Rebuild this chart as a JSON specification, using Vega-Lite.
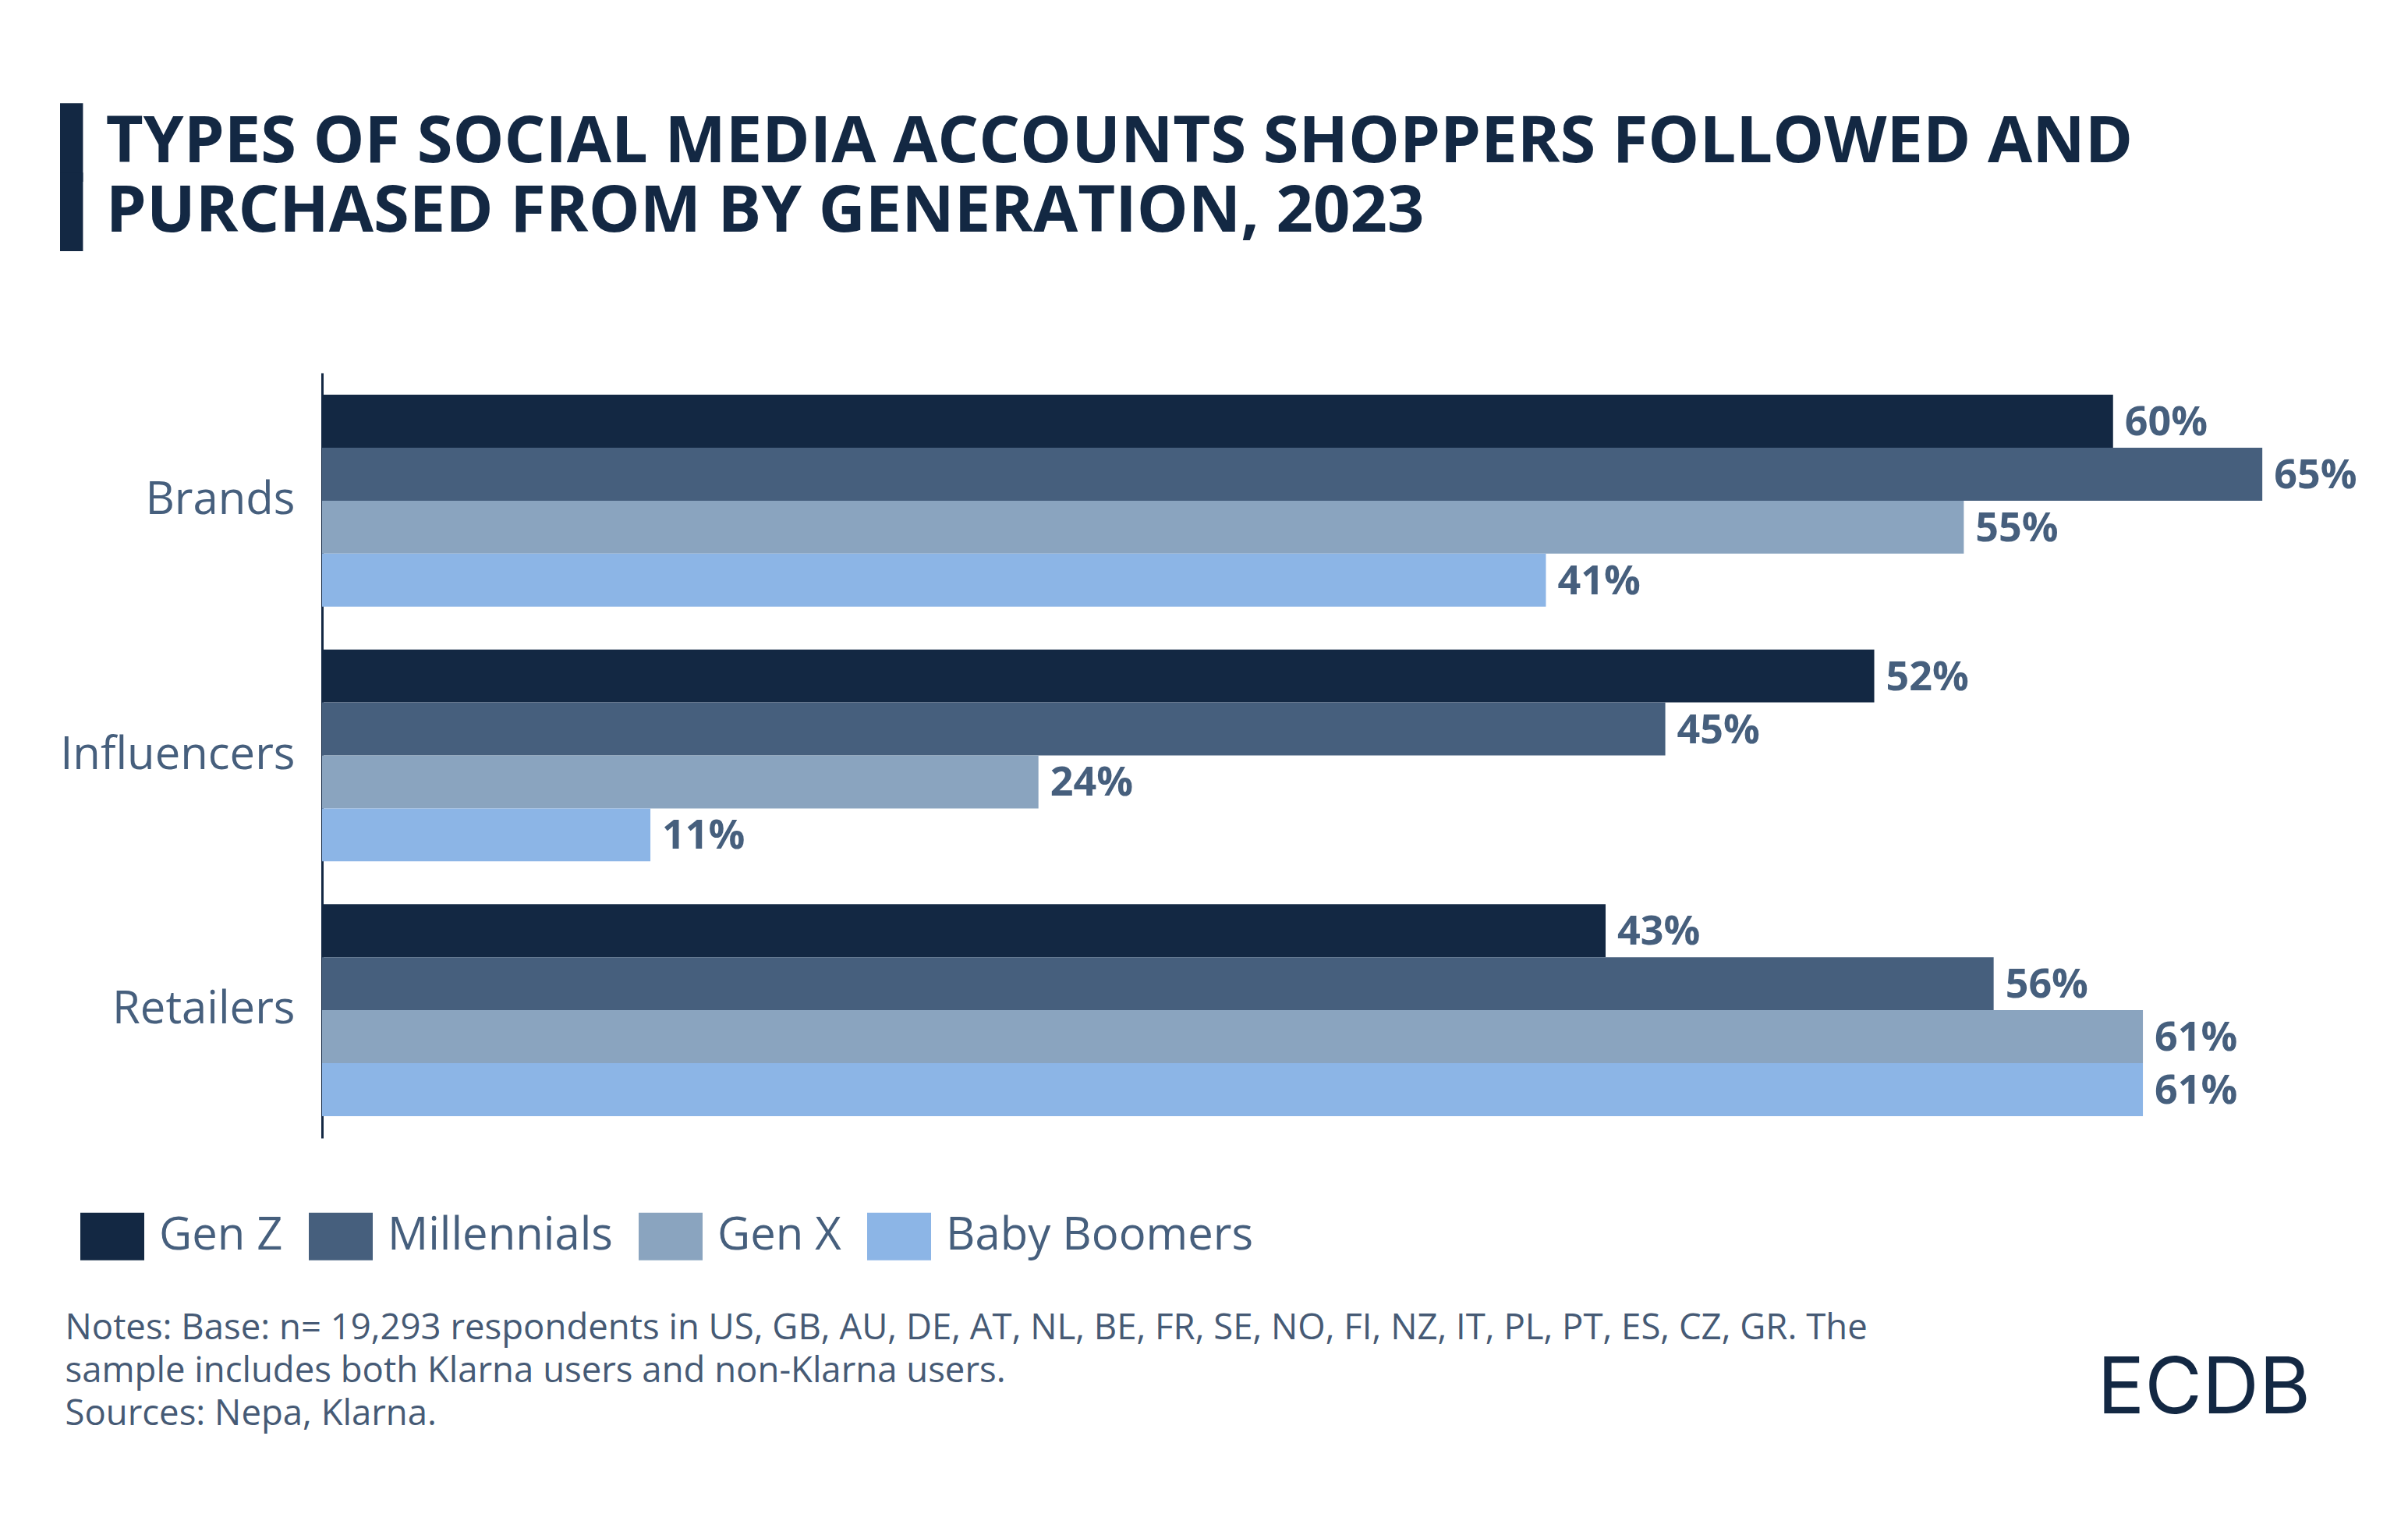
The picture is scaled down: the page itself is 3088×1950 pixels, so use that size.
{
  "$schema": "https://vega.github.io/schema/vega-lite/v6.json",
  "autosize": {"type": "none"},
  "padding": {"left": 413, "top": 478, "right": 72, "bottom": 491},
  "width": 2603,
  "height": 981,
  "background": "#ffffff",
  "title": {
    "text": ["▌TYPES OF SOCIAL MEDIA ACCOUNTS SHOPPERS FOLLOWED AND", "▌PURCHASED FROM BY GENERATION, 2023"],
    "anchor": "start",
    "frame": "group",
    "font": "Open Sans",
    "fontSize": 83,
    "fontWeight": "bold",
    "color": "#132843",
    "lineHeight": 89,
    "baseline": "alphabetic",
    "dx": -336,
    "offset": 98
  },
  "data": {
    "values": [
      {"Category": "Brands", "Generation": "Gen Z", "Share": 0.60},
      {"Category": "Brands", "Generation": "Millennials", "Share": 0.65},
      {"Category": "Brands", "Generation": "Gen X", "Share": 0.55},
      {"Category": "Brands", "Generation": "Baby Boomers", "Share": 0.41},
      {"Category": "Influencers", "Generation": "Gen Z", "Share": 0.52},
      {"Category": "Influencers", "Generation": "Millennials", "Share": 0.45},
      {"Category": "Influencers", "Generation": "Gen X", "Share": 0.24},
      {"Category": "Influencers", "Generation": "Baby Boomers", "Share": 0.11},
      {"Category": "Retailers", "Generation": "Gen Z", "Share": 0.43},
      {"Category": "Retailers", "Generation": "Millennials", "Share": 0.56},
      {"Category": "Retailers", "Generation": "Gen X", "Share": 0.61},
      {"Category": "Retailers", "Generation": "Baby Boomers", "Share": 0.61}
    ]
  },
  "encoding": {
    "y": {
      "field": "Category",
      "type": "nominal",
      "sort": ["Brands", "Influencers", "Retailers"],
      "scale": {"paddingInner": 0.168, "paddingOuter": 0.086},
      "axis": {
        "title": "ECDB",
        "titleAngle": 0,
        "titleAlign": "left",
        "titleBaseline": "alphabetic",
        "titleX": 2276,
        "titleY": 1333,
        "titleFont": "Inter",
        "titleFontSize": 101,
        "titleFontWeight": "normal",
        "titleColor": "#132843",
        "domain": true,
        "domainColor": "#132843",
        "domainWidth": 3,
        "ticks": false,
        "grid": false,
        "labelPadding": 35,
        "labelLimit": 500,
        "labelFont": "Open Sans",
        "labelFontSize": 58,
        "labelColor": "#465f7d"
      }
    },
    "yOffset": {
      "field": "Generation",
      "type": "nominal",
      "sort": ["Gen Z", "Millennials", "Gen X", "Baby Boomers"],
      "scale": {"paddingInner": 0, "paddingOuter": 0}
    },
    "x": {
      "field": "Share",
      "type": "quantitative",
      "scale": {"domain": [0, 0.68], "nice": false, "zero": true},
      "axis": {
        "domain": false,
        "ticks": false,
        "labels": false,
        "grid": false,
        "title": [
          "Notes: Base: n= 19,293 respondents in US, GB, AU, DE, AT, NL, BE, FR, SE, NO, FI, NZ, IT, PL, PT, ES, CZ, GR. The",
          "sample includes both Klarna users and non-Klarna users.",
          "Sources: Nepa, Klarna."
        ],
        "titleAnchor": "start",
        "titleAlign": "left",
        "titleBaseline": "alphabetic",
        "titleX": -330,
        "titleY": 257,
        "titleFont": "Open Sans",
        "titleFontSize": 45.5,
        "titleFontWeight": "normal",
        "titleColor": "#465a75",
        "titleLineHeight": 55,
        "titleLimit": 3000
      }
    }
  },
  "layer": [
    {
      "mark": {"type": "bar"},
      "encoding": {
        "color": {
          "field": "Generation",
          "type": "nominal",
          "sort": ["Gen Z", "Millennials", "Gen X", "Baby Boomers"],
          "scale": {
            "domain": ["Gen Z", "Millennials", "Gen X", "Baby Boomers"],
            "range": ["#132843", "#465f7d", "#8aa4bf", "#8cb5e6"]
          },
          "legend": {
            "title": null,
            "orient": "none",
            "direction": "horizontal",
            "legendX": -310,
            "legendY": 1066,
            "symbolType": "M-1,-0.744H1V0.744H-1Z",
            "symbolSize": 6724,
            "symbolStrokeWidth": 0,
            "symbolOpacity": 1,
            "labelFont": "Open Sans",
            "labelFontSize": 58,
            "labelColor": "#465f7d",
            "labelOffset": 19,
            "columnPadding": 33,
            "labelLimit": 1000
          }
        }
      }
    },
    {
      "mark": {
        "type": "text",
        "align": "left",
        "baseline": "middle",
        "dx": 15,
        "dy": 2,
        "font": "Open Sans",
        "fontSize": 52,
        "fontWeight": "bold",
        "color": "#465f7d"
      },
      "encoding": {
        "text": {"field": "Share", "type": "quantitative", "format": ".0%"}
      }
    }
  ],
  "config": {
    "view": {"stroke": null}
  }
}
